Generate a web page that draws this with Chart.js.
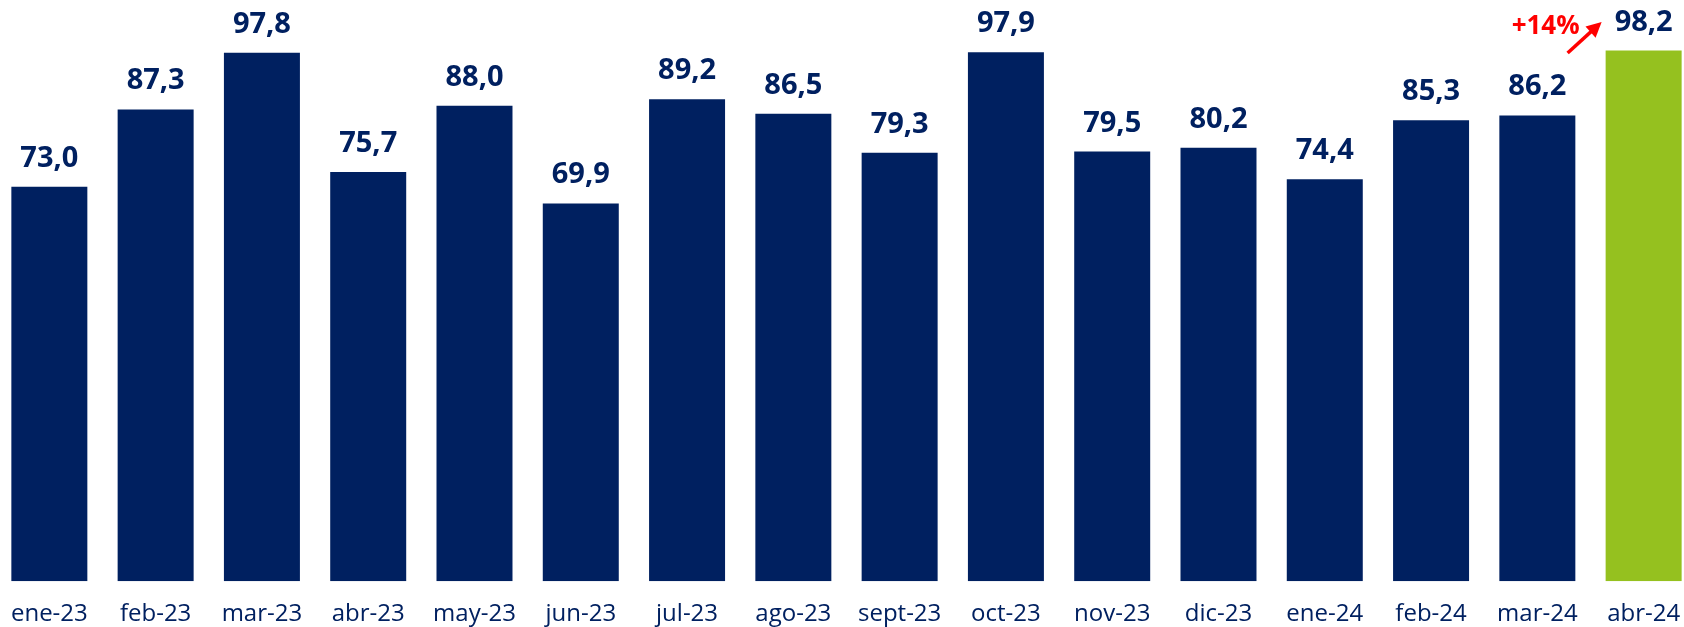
<!DOCTYPE html>
<html>
<head>
<meta charset="utf-8">
<script src="https://cdn.jsdelivr.net/npm/chart.js@4"></script>
<style>
  html, body { margin: 0; padding: 0; background: #fff; overflow: hidden; }
  #wrap { position: absolute; left: -8px; top: 0; width: 1707px; height: 648px; }
</style>
</head>
<body>
<div id="wrap"><canvas id="chart1"></canvas></div>
<script>
var months = ['ene-23', 'feb-23', 'mar-23', 'abr-23', 'may-23', 'jun-23', 'jul-23', 'ago-23',
  'sept-23', 'oct-23', 'nov-23', 'dic-23', 'ene-24', 'feb-24', 'mar-24', 'abr-24'];
var values = [73.0, 87.3, 97.8, 75.7, 88.0, 69.9, 89.2, 86.5, 79.3, 97.9, 79.5, 80.2, 74.4, 85.3, 86.2, 98.2];
var growthLabel = '+14%';

var navy = '#002060';
var green = '#95C11F';
var barColors = values.map(function (v, i) { return i === values.length - 1 ? green : navy; });

// value labels over each bar + the red arrow on the last one
var labelsPlugin = {
  id: 'barLabels',
  afterDatasetsDraw: function (chart) {
    var ctx = chart.ctx;
    var bars = chart.getDatasetMeta(0).data;
    ctx.save();
    ctx.fillStyle = navy;
    ctx.font = 'bold 29px "Open Sans"';
    ctx.textAlign = 'center';
    ctx.textBaseline = 'alphabetic';
    bars.forEach(function (bar, i) {
      ctx.fillText(values[i].toFixed(1).replace('.', ','), bar.x, bar.y - 20);
    });

    var last = bars[bars.length - 1];
    var left = last.x - last.width / 2;
    ctx.fillStyle = '#ff0000';
    ctx.font = 'bold 26px "Open Sans"';
    ctx.textBaseline = 'middle';
    ctx.fillText(growthLabel, left - 60, 27);

    var x1 = left - 38, y1 = 53, x2 = left - 4, y2 = 22;
    var ang = Math.atan2(y2 - y1, x2 - x1);
    ctx.strokeStyle = '#ff0000';
    ctx.lineWidth = 3.5;
    ctx.beginPath();
    ctx.moveTo(x1, y1);
    ctx.lineTo(x2 - 8 * Math.cos(ang), y2 - 8 * Math.sin(ang));
    ctx.stroke();
    ctx.beginPath();
    ctx.moveTo(x2, y2);
    ctx.lineTo(x2 - 15 * Math.cos(ang) + 7.5 * Math.sin(ang), y2 - 15 * Math.sin(ang) - 7.5 * Math.cos(ang));
    ctx.lineTo(x2 - 15 * Math.cos(ang) - 7.5 * Math.sin(ang), y2 - 15 * Math.sin(ang) + 7.5 * Math.cos(ang));
    ctx.closePath();
    ctx.fill();
    ctx.restore();
  }
};

new Chart(document.getElementById('chart1'), {
  type: 'bar',
  data: {
    labels: months,
    datasets: [{
      data: values,
      backgroundColor: barColors,
      categoryPercentage: 1,
      barPercentage: 0.715
    }]
  },
  options: {
    responsive: true,
    maintainAspectRatio: false,
    animation: false,
    layout: { padding: 0 },
    plugins: { legend: { display: false }, tooltip: { enabled: false } },
    scales: {
      x: {
        grid: { display: false, drawTicks: false },
        border: { display: false },
        ticks: { color: navy, padding: 19, maxRotation: 0, autoSkip: false, font: { family: 'Open Sans', size: 24 } }
      },
      y: { display: false, min: 0, max: 107.55 }
    }
  },
  plugins: [labelsPlugin]
});
</script>
</body>
</html>
